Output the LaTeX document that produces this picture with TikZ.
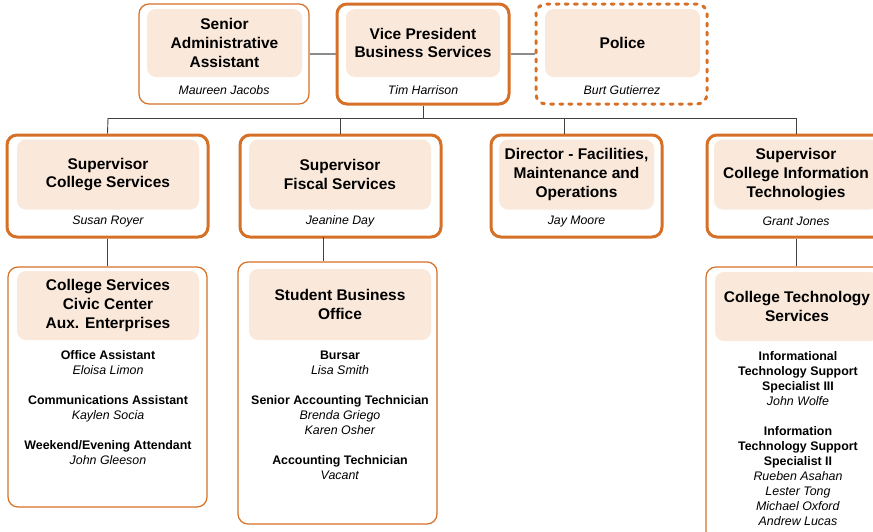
\documentclass[tikz,border=0pt]{standalone}
\usepackage{fontspec}
\setmainfont{Liberation Sans}
\usetikzlibrary{positioning,calc}

\definecolor{orgline}{RGB}{214,112,38}
\definecolor{orgfill}{RGB}{250,233,219}

\begin{document}
\begin{tikzpicture}[
  x=1pt, y=-1pt,
  unit/.style={rectangle, rounded corners=10pt, draw=orgline, line width=1.2pt, inner sep=0},
  head/.style={unit, line width=3pt},
  ext/.style={head, dash pattern=on 3pt off 6.2pt, line cap=round},
  title/.style={rectangle, rounded corners=9pt, fill=orgfill, inner sep=0, align=center,
                font=\fontsize{15.5}{18.7}\selectfont\bfseries},
  who/.style={font=\fontsize{12.3}{15}\selectfont\itshape, inner sep=0},
  staff/.style={align=center, inner sep=0, anchor=north, font=\fontsize{12.4}{15}\selectfont},
  link/.style={draw=black!75, line width=0.9pt},
  side/.style={draw=black!45, line width=1.6pt},
]
\fill[white] (0,0) rectangle (873,531);
\useasboundingbox (0,0) rectangle (873,531);

% top row
\node[unit, minimum width=170pt, minimum height=100pt] (saa) at (224,54) {};
\node[title, minimum width=155pt, minimum height=68pt] (saaT) at (224.5,43) {Senior\\Administrative\\Assistant};
\node[who] (saaN) at (224,90) {Maureen Jacobs};

\node[head, minimum width=172pt, minimum height=100pt] (vp) at (423,54) {};
\node[title, minimum width=154pt, minimum height=68pt] (vpT) at (423,43) {Vice President\\Business Services};
\node[who] (vpN) at (423,90) {Tim Harrison};

\node[ext, minimum width=171pt, minimum height=100pt] (pol) at (621.5,54) {};
\node[title, minimum width=155pt, minimum height=68pt] (polT) at (622.5,43) {Police};
\node[who] (polN) at (622,90) {Burt Gutierrez};

\draw[side] (saa.east) -- (vp.west);
\draw[side] (vp.east) -- (pol.west);

% second row
\node[head, minimum width=201pt, minimum height=102pt] (scs) at (107.5,186) {};
\node[title, minimum width=182pt, minimum height=70pt] (scsT) at (108,174.5) {Supervisor\\College Services};
\node[who] (scsN) at (108,221.5) {Susan Royer};

\node[head, minimum width=201pt, minimum height=102pt] (sfs) at (340.5,186) {};
\node[title, minimum width=182pt, minimum height=70pt] (sfsT) at (340,174.5) {Supervisor\\Fiscal Services};
\node[who] (sfsN) at (340,221.5) {Jeanine Day};

\node[head, minimum width=171pt, minimum height=102pt] (dfm) at (576.5,186) {};
\node[title, minimum width=155pt, minimum height=70pt] (dfmT) at (576.5,174.5) {Director - Facilities,\\Maintenance and\\Operations};
\node[who] (dfmN) at (576.5,221.5) {Jay Moore};

\node[head, minimum width=178pt, minimum height=102pt] (sit) at (796,186) {};
\node[title, minimum width=164pt, minimum height=70pt] (sitT) at (796,174.5) {Supervisor\\College Information\\Technologies};
\node[who] (sitN) at (796,221.5) {Grant Jones};

\coordinate (busL) at (108,118);
\coordinate (busR) at (796,118);
\coordinate (dfmtap) at (564,118);
\draw[link] (vp.south) -- (vp.south |- busL);
\draw[link] (busL) -- (busR);
\draw[link] (busL) -- (scs.north);
\draw[link] (sfs.north |- busL) -- (sfs.north);
\draw[link] (dfmtap) -- (dfmtap |- dfm.north);
\draw[link] (busR) -- (sit.north);

% third row
\node[unit, minimum width=199pt, minimum height=240pt] (csc) at (107.5,387) {};
\node[title, minimum width=182pt, minimum height=69pt] (cscT) at (108,305.5) {College Services\\Civic Center\\Aux. Enterprises};
\node[staff] (cscS) at (108,350.5) {\textbf{Office Assistant}\\\textit{Eloisa Limon}\\[15pt]
  \textbf{Communications Assistant}\\\textit{Kaylen Socia}\\[15pt]
  \textbf{Weekend/Evening Attendant}\\\textit{John Gleeson}};

\node[unit, minimum width=199pt, minimum height=262pt] (sbo) at (337.5,393) {};
\node[title, minimum width=182pt, minimum height=71pt] (sboT) at (340,304.5) {Student Business\\Office};
\node[staff] (sboS) at (340,350.5) {\textbf{Bursar}\\\textit{Lisa Smith}\\[15pt]
  \textbf{Senior Accounting Technician}\\\textit{Brenda Griego}\\\textit{Karen Osher}\\[15pt]
  \textbf{Accounting Technician}\\\textit{Vacant}};

\node[unit, minimum width=180pt, minimum height=278pt] (cts) at (796,406) {};
\node[title, minimum width=164pt, minimum height=69pt] (ctsT) at (797,306.5) {College Technology\\Services};
\node[staff] (ctsS) at (798,351.5) {\textbf{Informational}\\\textbf{Technology Support}\\\textbf{Specialist III}\\\textit{John Wolfe}\\[15pt]
  \textbf{Information}\\\textbf{Technology Support}\\\textbf{Specialist II}\\\textit{Rueben Asahan}\\\textit{Lester Tong}\\\textit{Michael Oxford}\\\textit{Andrew Lucas}};

\coordinate (sfstap) at (323,237);
\draw[link] (scs.south) -- (csc.north);
\draw[link] (sfstap) -- (sfstap |- sbo.north);
\draw[link] (sit.south) -- (cts.north);
\end{tikzpicture}
\end{document}
